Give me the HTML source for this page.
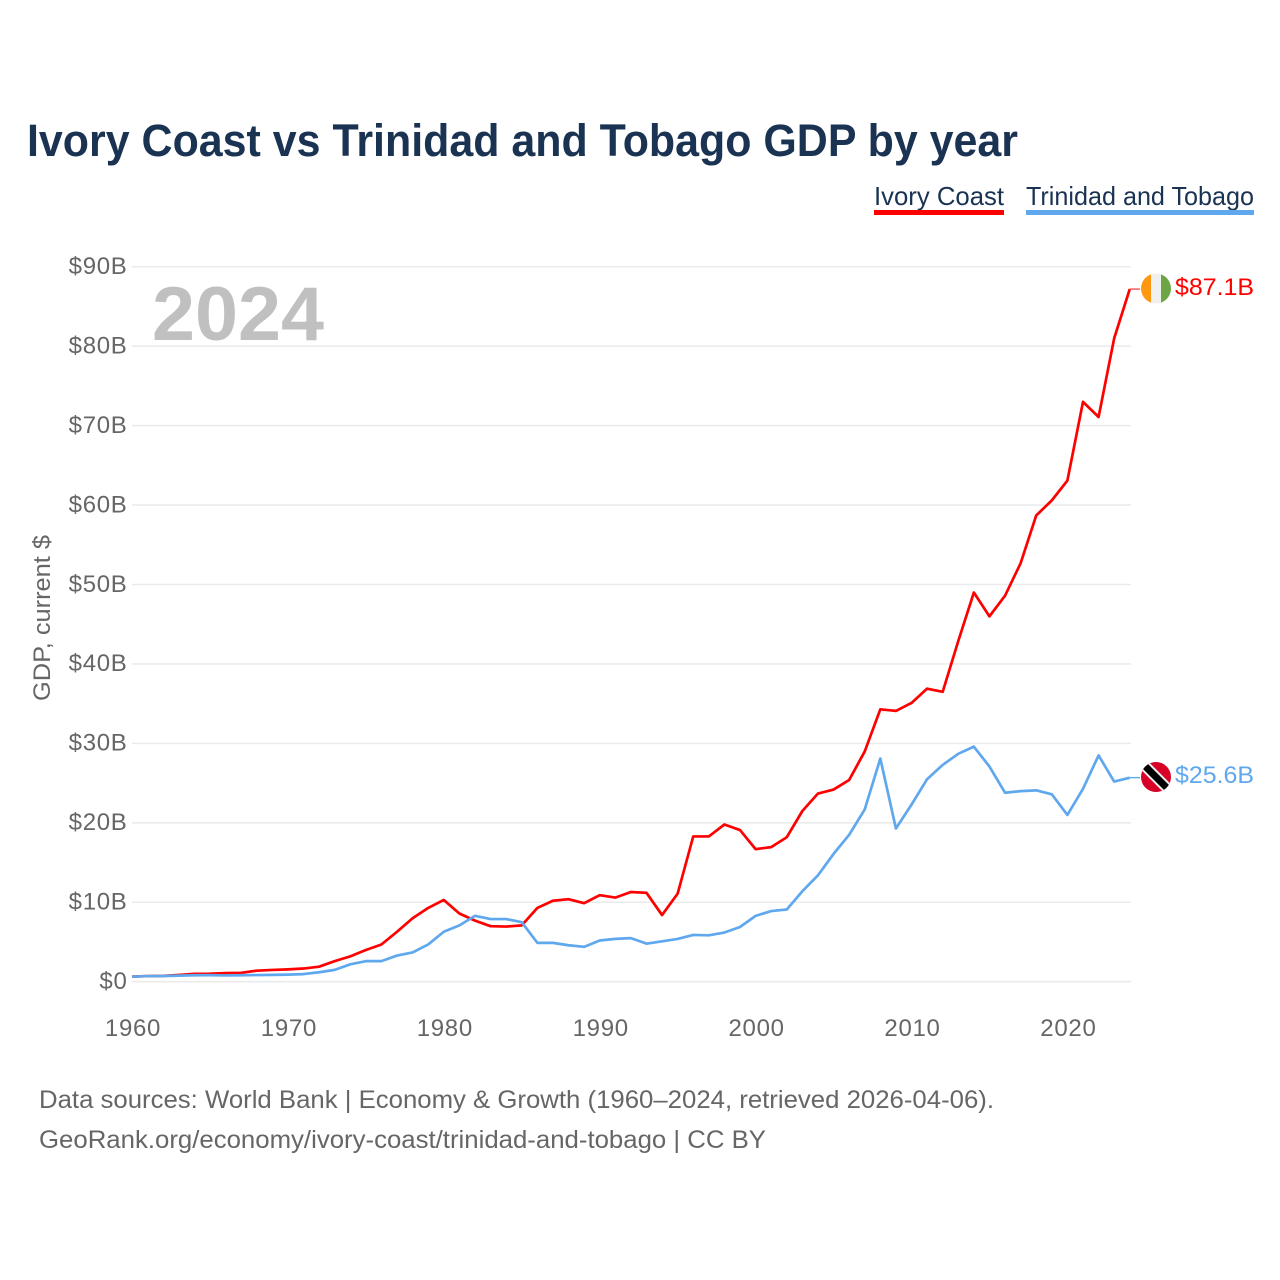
<!DOCTYPE html>
<html lang="en">
<head>
<meta charset="utf-8">
<title>Ivory Coast vs Trinidad and Tobago GDP by year</title>
<style>
html,body{margin:0;padding:0;background:#fff;width:1280px;height:1280px;overflow:hidden}
svg{display:block;font-family:"Liberation Sans",sans-serif}
.tick{font-size:24px;fill:#666;letter-spacing:.7px}
</style>
</head>
<body>
<svg id="chart" xmlns="http://www.w3.org/2000/svg" width="1280" height="1280" viewBox="0 0 1280 1280">
  <defs>
    <clipPath id="clip-ci"><circle cx="1156" cy="288.5" r="15"/></clipPath>
    <clipPath id="clip-tt"><circle cx="1156" cy="777" r="15"/></clipPath>
  </defs>
  <rect width="1280" height="1280" fill="#fff"/>
  <text x="27" y="156" font-size="45" font-weight="700" fill="#1a3353" textLength="991" lengthAdjust="spacingAndGlyphs">Ivory Coast vs Trinidad and Tobago GDP by year</text>

  <g>
    <text x="874" y="205" font-size="26" fill="#1a3353" textLength="130" lengthAdjust="spacingAndGlyphs">Ivory Coast</text>
    <rect x="874" y="210" width="130" height="5" fill="#ff0000"/>
    <text x="1026" y="205" font-size="26" fill="#1a3353" textLength="228" lengthAdjust="spacingAndGlyphs">Trinidad and Tobago</text>
    <rect x="1026" y="210" width="228" height="5" fill="#5fa8ee"/>
  </g>

  <g id="grid"></g>
  <g id="yticks"></g>
  <g id="xticks"></g>

  <text x="152" y="340" font-size="76" font-weight="700" fill="#c0c0c0" textLength="172" lengthAdjust="spacingAndGlyphs">2024</text>
  <text transform="translate(50 701) rotate(-90)" font-size="24" fill="#666" textLength="166" lengthAdjust="spacingAndGlyphs">GDP, current $</text>

  <g id="series"></g>

  <g clip-path="url(#clip-ci)">
    <rect x="1141" y="273" width="10" height="31" fill="#ff9811"/>
    <rect x="1151" y="273" width="10" height="31" fill="#f0f0f0"/>
    <rect x="1161" y="273" width="10" height="31" fill="#6da544"/>
  </g>
  <g clip-path="url(#clip-tt)">
    <rect x="1141" y="762" width="30" height="30" fill="#d80027"/>
    <line x1="1144" y1="765" x2="1168" y2="789" stroke="#f0f0f0" stroke-width="11"/>
    <line x1="1144" y1="765" x2="1168" y2="789" stroke="#000" stroke-width="7"/>
  </g>

  <text x="1175" y="295" font-size="24" fill="#ff0000" textLength="79" lengthAdjust="spacingAndGlyphs">$87.1B</text>
  <text x="1175" y="783" font-size="24" fill="#5fa8ee" textLength="79" lengthAdjust="spacingAndGlyphs">$25.6B</text>

  <text x="39" y="1108" font-size="25" fill="#666" textLength="955" lengthAdjust="spacingAndGlyphs">Data sources: World Bank | Economy &amp; Growth (1960–2024, retrieved 2026-04-06).</text>
  <text x="39" y="1148" font-size="25" fill="#666" textLength="727" lengthAdjust="spacingAndGlyphs">GeoRank.org/economy/ivory-coast/trinidad-and-tobago | CC BY</text>
</svg>

<script>
const years = [1960,1961,1962,1963,1964,1965,1966,1967,1968,1969,1970,1971,1972,1973,1974,1975,1976,1977,1978,1979,1980,1981,1982,1983,1984,1985,1986,1987,1988,1989,1990,1991,1992,1993,1994,1995,1996,1997,1998,1999,2000,2001,2002,2003,2004,2005,2006,2007,2008,2009,2010,2011,2012,2013,2014,2015,2016,2017,2018,2019,2020,2021,2022,2023,2024];
const ivoryCoast = [0.55,0.62,0.65,0.76,0.9,0.92,1.0,1.03,1.3,1.39,1.46,1.57,1.8,2.5,3.1,3.9,4.6,6.2,7.9,9.2,10.2,8.5,7.6,6.9,6.85,7.0,9.2,10.1,10.3,9.8,10.8,10.5,11.2,11.1,8.3,11.0,18.2,18.2,19.7,19.0,16.6,16.85,18.1,21.4,23.6,24.1,25.3,28.9,34.2,34.0,35.0,36.8,36.4,42.8,48.9,45.9,48.5,52.6,58.6,60.5,63.0,72.9,71.0,80.9,87.1];
const trinidadTobago = [0.54,0.62,0.63,0.68,0.72,0.73,0.7,0.72,0.75,0.77,0.8,0.87,1.1,1.4,2.1,2.5,2.5,3.2,3.6,4.6,6.2,7.0,8.2,7.8,7.8,7.4,4.8,4.8,4.5,4.3,5.1,5.3,5.4,4.7,5.0,5.3,5.8,5.75,6.1,6.8,8.2,8.8,9.0,11.3,13.3,16.0,18.4,21.6,28.0,19.2,22.2,25.4,27.2,28.6,29.5,27.0,23.7,23.9,24.0,23.5,20.9,24.2,28.4,25.1,25.6];
const yTickValues = [0,10,20,30,40,50,60,70,80,90];
const yTickLabels = ["$0","$10B","$20B","$30B","$40B","$50B","$60B","$70B","$80B","$90B"];
const xTickValues = [1960,1970,1980,1990,2000,2010,2020];

const NS = "http://www.w3.org/2000/svg";
function xScale(year){ return 132 + (year - 1960) * 15.59; }
function yScale(v){ return 981 - v * 7.944; }
function make(tag, parent, attrs){
  const el = document.createElementNS(NS, tag);
  for (const k in attrs) el.setAttribute(k, attrs[k]);
  parent.appendChild(el);
  return el;
}

const gridG = document.getElementById("grid");
const yG = document.getElementById("yticks");
const xG = document.getElementById("xticks");
const seriesG = document.getElementById("series");

yTickValues.forEach(function(v, i){
  const line = make("line", gridG, {x1:132, x2:1131, y1:yScale(v)+0.7, y2:yScale(v)+0.7, stroke:"#ebebeb", "stroke-width":1.6});
  
  
  const t = make("text", yG, {x:127.5, y:yScale(v)+8, "text-anchor":"end", class:"tick"});
  t.textContent = yTickLabels[i];
  
  
});

xTickValues.forEach(function(v){
  const t = make("text", xG, {x:xScale(v)+1, y:1036, "text-anchor":"middle", class:"tick"});
  t.textContent = String(v);
  
  
});

function toPoints(values){
  return values.map(function(v, i){ return xScale(years[i]).toFixed(2) + "," + yScale(v).toFixed(2); }).join(" ");
}

const redLine = make("polyline", seriesG, {points:toPoints(ivoryCoast), fill:"none", stroke:"#ff0000", "stroke-width":2.7, "stroke-linejoin":"round"});



const blueLine = make("polyline", seriesG, {points:toPoints(trinidadTobago), fill:"none", stroke:"#5fa8ee", "stroke-width":2.7, "stroke-linejoin":"round"});



const lastIdx = years.length - 1;
const redLead = make("line", seriesG, {x1:xScale(years[lastIdx]), x2:1140, y1:yScale(ivoryCoast[lastIdx]), y2:yScale(ivoryCoast[lastIdx]), stroke:"#ff5555", "stroke-width":1.4});



const blueLead = make("line", seriesG, {x1:xScale(years[lastIdx]), x2:1140, y1:yScale(trinidadTobago[lastIdx]), y2:yScale(trinidadTobago[lastIdx]), stroke:"#5fa8ee", "stroke-width":1.4});


</script>
</body>
</html>
